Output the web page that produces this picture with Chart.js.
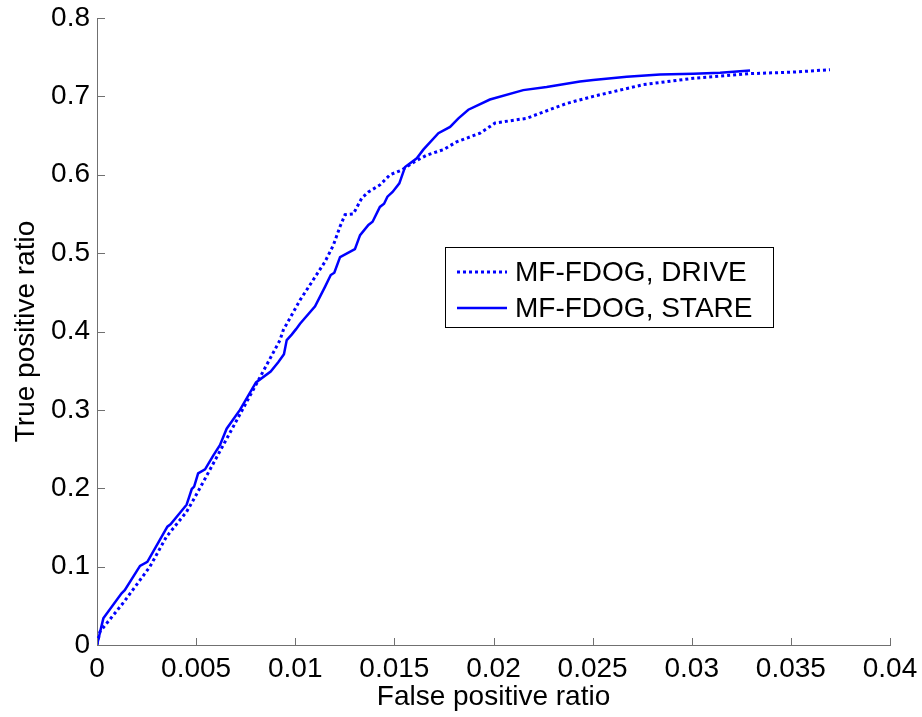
<!DOCTYPE html>
<html>
<head>
<meta charset="utf-8">
<script src="https://cdn.jsdelivr.net/npm/chart.js@4"></script>
<style>
  body { margin: 0; background: #fff; }
  #roc { display: block; }
</style>
</head>
<body>
<canvas id="roc" width="922" height="717"></canvas>
<script>
// ROC curves
const seriesNames = ['MF-FDOG, DRIVE', 'MF-FDOG, STARE'];

const driveFpr = [0, 0.00015, 0.00133, 0.00267, 0.0035, 0.00452, 0.00486, 0.00536, 0.00806, 0.00923, 0.0094,
    0.01024, 0.01091, 0.0115, 0.01192, 0.01226, 0.01251, 0.01293, 0.01335, 0.01369, 0.01427, 0.01478, 0.01537,
    0.01604, 0.01663, 0.01747, 0.01814, 0.01932, 0.02008, 0.02167, 0.02251, 0.02369, 0.02503, 0.02638, 0.02756,
    0.03008, 0.03294, 0.03512, 0.03697];
const driveTpr = [0, 0.017, 0.054, 0.100, 0.138, 0.170, 0.185, 0.208, 0.334, 0.389, 0.402,
    0.440, 0.466, 0.489, 0.510, 0.534, 0.549, 0.550, 0.570, 0.578, 0.587, 0.600, 0.606,
    0.617, 0.625, 0.632, 0.642, 0.653, 0.666, 0.672, 0.680, 0.691, 0.700, 0.708, 0.715,
    0.723, 0.729, 0.731, 0.734];

const stareFpr = [0, 0.00032, 0.00124, 0.0014, 0.00217, 0.00254, 0.00355, 0.00371, 0.00452, 0.00465, 0.00478,
    0.0049, 0.0051, 0.00545, 0.00587, 0.0062, 0.00654, 0.00721, 0.00802, 0.00876, 0.00915, 0.00943, 0.00957,
    0.00982, 0.01004, 0.01024, 0.011, 0.0115, 0.01179, 0.01197, 0.01226, 0.01301, 0.01327, 0.01369, 0.0139, 0.01427,
    0.01448, 0.01465, 0.01491, 0.01525, 0.01554, 0.01613, 0.01646, 0.01722, 0.01781, 0.01823, 0.01873, 0.01982,
    0.0215, 0.02268, 0.02436, 0.02503, 0.02672, 0.0284, 0.03008, 0.03143, 0.03294];
const stareTpr = [0, 0.034, 0.066, 0.070, 0.101, 0.106, 0.151, 0.154, 0.179, 0.189, 0.199,
    0.202, 0.219, 0.224, 0.242, 0.255, 0.276, 0.300, 0.335, 0.349, 0.361, 0.371, 0.389,
    0.396, 0.403, 0.410, 0.432, 0.457, 0.472, 0.475, 0.495, 0.505, 0.523, 0.536, 0.540, 0.559,
    0.563, 0.572, 0.578, 0.589, 0.610, 0.621, 0.632, 0.653, 0.661, 0.672, 0.683, 0.696,
    0.708, 0.712, 0.719, 0.721, 0.725, 0.728, 0.729, 0.730, 0.733];

const xTickLabels = ['0', '0.005', '0.01', '0.015', '0.02', '0.025', '0.03', '0.035', '0.04'];
const yTickLabels = ['0', '0.1', '0.2', '0.3', '0.4', '0.5', '0.6', '0.7', '0.8'];

const FONT = 'Arial, "Liberation Sans", sans-serif';
const AXIS_COLOR = '#707070';

function toPoints(xs, ys) {
    return xs.map((x, i) => ({ x: x, y: ys[i] }));
}

// matlab style: ticks point into the plot, legend box inside the axes
const insideStuff = {
    id: 'insideStuff',
    afterDraw(chart) {
        const c = chart.ctx;
        const xs = chart.scales.x, ys = chart.scales.y;
        const area = chart.chartArea;
        c.save();
        c.strokeStyle = AXIS_COLOR;
        c.lineWidth = 1;
        c.beginPath();
        xs.ticks.forEach(t => {
            const px = Math.round(xs.getPixelForValue(t.value)) + 0.5;
            c.moveTo(px, area.bottom);
            c.lineTo(px, area.bottom - 7);
        });
        ys.ticks.forEach(t => {
            const py = Math.round(ys.getPixelForValue(t.value)) + 0.5;
            c.moveTo(area.left, py);
            c.lineTo(area.left + 8, py);
        });
        c.stroke();

        // legend
        const box = { x: 445.5, y: 247.5, w: 328, h: 80 };
        c.fillStyle = '#fff';
        c.fillRect(box.x, box.y, box.w, box.h);
        c.strokeStyle = '#000';
        c.strokeRect(box.x, box.y, box.w, box.h);
        const rows = [272, 308];
        chart.data.datasets.forEach((ds, i) => {
            c.beginPath();
            c.strokeStyle = ds.borderColor;
            c.lineWidth = ds.borderWidth;
            c.setLineDash(ds.borderDash || []);
            c.moveTo(457, rows[i]);
            c.lineTo(507, rows[i]);
            c.stroke();
            c.setLineDash([]);
            c.fillStyle = '#000';
            c.font = '28px ' + FONT;
            c.textBaseline = 'middle';
            c.textAlign = 'left';
            c.fillText(ds.label, 515, rows[i] + 1);
        });
        c.restore();
    }
};

const chart = new Chart(document.getElementById('roc').getContext('2d'), {
    type: 'line',
    data: {
        datasets: [{
            label: seriesNames[0],
            data: toPoints(driveFpr, driveTpr),
            borderColor: '#0000ff',
            borderWidth: 3,
            borderDash: [3, 3],
            pointRadius: 0,
            tension: 0,
            fill: false
        }, {
            label: seriesNames[1],
            data: toPoints(stareFpr, stareTpr),
            borderColor: '#0000ff',
            borderWidth: 2.5,
            pointRadius: 0,
            tension: 0,
            fill: false
        }]
    },
    options: {
        responsive: false,
        animation: false,
        layout: { autoPadding: false, padding: { top: 18, right: 32, left: 0, bottom: 0 } },
        plugins: {
            legend: { display: false },
            tooltip: { enabled: false }
        },
        scales: {
            x: {
                type: 'linear',
                min: 0,
                max: 0.04,
                // fixed axis box, no extra room for the end labels
                afterFit: s => { s.height = 72; s.paddingLeft = 0; s.paddingRight = 0; },
                grid: { drawOnChartArea: false, drawTicks: false },
                border: { color: AXIS_COLOR, width: 1 },
                ticks: {
                    stepSize: 0.005,
                    padding: 10,
                    color: '#000',
                    font: { family: FONT, size: 28, lineHeight: 1 },
                    maxRotation: 0,
                    autoSkip: false,
                    callback: (v, i) => xTickLabels[i]
                },
                title: {
                    display: true,
                    text: 'False positive ratio',
                    color: '#000',
                    font: { family: FONT, size: 28 },
                    padding: { top: 0, bottom: 3 }
                }
            },
            y: {
                type: 'linear',
                min: 0,
                max: 0.8,
                afterFit: s => { s.width = 97; s.paddingTop = 0; s.paddingBottom = 0; },
                grid: { drawOnChartArea: false, drawTicks: false },
                border: { color: AXIS_COLOR, width: 1 },
                ticks: {
                    stepSize: 0.1,
                    padding: 7,
                    color: '#000',
                    font: { family: FONT, size: 28, lineHeight: 1 },
                    autoSkip: false,
                    callback: (v, i) => yTickLabels[i]
                },
                title: {
                    display: true,
                    text: 'True positive ratio',
                    color: '#000',
                    font: { family: FONT, size: 28 },
                    padding: { top: 9, bottom: 0 }
                }
            }
        }
    },
    plugins: [insideStuff]
});
</script>
</body>
</html>
